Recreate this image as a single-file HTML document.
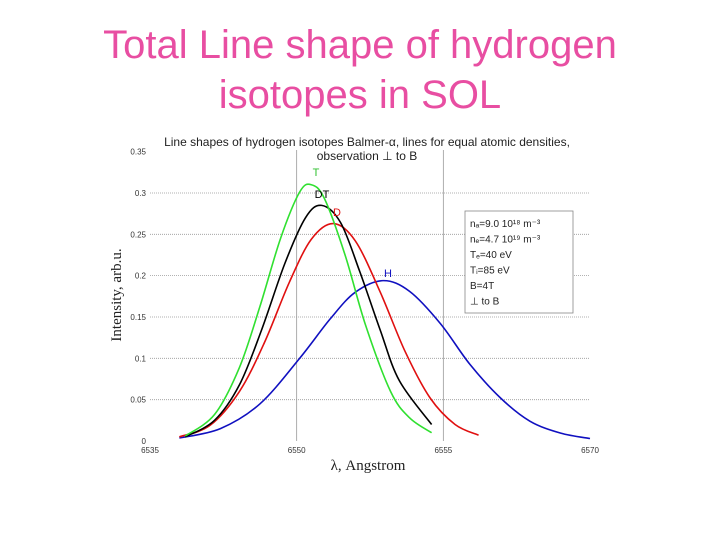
<!DOCTYPE html>
<html><head><meta charset="utf-8"><style>
body{margin:0;background:#fff;width:720px;height:540px;overflow:hidden;font-family:"Liberation Sans",sans-serif}
.t{position:absolute;left:0;width:720px;text-align:center;color:#e84ea2;font-size:40px;line-height:50px}
</style></head><body>
<div class="t" style="top:20px">Total Line shape of hydrogen<br>isotopes in SOL</div>
<svg id="c" width="720" height="540" style="position:absolute;left:0;top:0"></svg>
<script>
const yTicks=[0,0.05,0.1,0.15,0.2,0.25,0.3,0.35];
const yTickLabels=["0","0.05","0.1","0.15","0.2","0.25","0.3","0.35"];
const xTicks=[0,1,2,3];
const xTickLabels=["6535","6550","6555","6570"];
const tX=[0.24,0.44,0.61,0.75,0.89,1.02,1.10,1.19,1.33,1.47,1.64,1.77,1.92];
const tY=[0.006,0.032,0.089,0.163,0.245,0.301,0.31,0.293,0.225,0.14,0.06,0.028,0.010];
const dtX=[0.24,0.44,0.61,0.76,0.92,1.06,1.17,1.30,1.43,1.57,1.70,1.92];
const dtY=[0.005,0.025,0.068,0.134,0.215,0.27,0.285,0.264,0.205,0.134,0.073,0.02];
const dX=[0.20,0.41,0.61,0.78,0.95,1.10,1.25,1.40,1.57,1.74,1.91,2.08,2.24];
const dY=[0.005,0.019,0.06,0.119,0.192,0.244,0.263,0.242,0.18,0.108,0.052,0.02,0.007];
const hX=[0.20,0.48,0.75,1.02,1.23,1.40,1.59,1.77,1.98,2.18,2.39,2.59,2.80,3.00];
const hY=[0.0036,0.015,0.045,0.1,0.148,0.18,0.194,0.181,0.142,0.093,0.052,0.024,0.0095,0.003];
const NS="http://www.w3.org/2000/svg",svg=document.getElementById('c');
const X=u=>150+u*146.67, Y=v=>441-v*826.7;
function el(t,a,txt){const e=document.createElementNS(NS,t);for(const k in a)e.setAttribute(k,a[k]);if(txt!=null)e.textContent=txt;svg.appendChild(e);return e;}
yTicks.forEach((v,i)=>{
 if(v>0&&v<0.35){const g=el('line',{x1:150,x2:590,y1:Y(v),y2:Y(v),stroke:'#999','stroke-width':0.8,'stroke-dasharray':'1,1'});
 
 }
 const t=el('text',{x:146,y:Y(v)+3,'font-size':8,'text-anchor':'end',fill:'#333'},yTickLabels[i]);
 
 
});
[1,2].forEach(u=>{const l=el('line',{x1:X(u),x2:X(u),y1:150,y2:441,stroke:'#999','stroke-width':0.8});
 
 });
xTicks.forEach((u,i)=>{const t=el('text',{x:X(u),y:453,'font-size':8,'text-anchor':'middle',fill:'#333'},xTickLabels[i]);
 
 });
function path(xs,ys){const p=xs.map((x,i)=>[X(x),Y(ys[i])]);let d='M'+p[0];
 for(let i=0;i<p.length-1;i++){const p0=p[i-1]||p[i],p1=p[i],p2=p[i+1],p3=p[i+2]||p2;
  d+=' C'+(p1[0]+(p2[0]-p0[0])/6)+','+(p1[1]+(p2[1]-p0[1])/6)+' '+(p2[0]-(p3[0]-p1[0])/6)+','+(p2[1]-(p3[1]-p1[1])/6)+' '+p2;}
 return d;}
[[hX,hY,'#1010c0','series-h'],[dX,dY,'#e01010','series-d'],[dtX,dtY,'#000','series-dt'],[tX,tY,'#30e030','series-t']].forEach(s=>{
 const p=el('path',{d:path(s[0],s[1]),fill:'none',stroke:s[2],'stroke-width':1.6});
 
 });
[['T',316,176,'#30c030'],['DT',322,198,'#000'],['D',337,216,'#e01010'],['H',388,277,'#1010c0']].forEach(a=>{
 const t=el('text',{x:a[1],y:a[2],'font-size':11,'text-anchor':'middle',fill:a[3]},a[0]);
 
 });
const t1=el('text',{x:367,y:146,'font-size':12,'text-anchor':'middle',fill:'#222'},'Line shapes of hydrogen isotopes Balmer-α, lines for equal atomic densities,');


const t2=el('text',{x:367,y:160,'font-size':12,'text-anchor':'middle',fill:'#222'},'observation ⊥ to B');


const xl=el('text',{x:368,y:470,'font-size':15,'text-anchor':'middle','font-family':'Liberation Serif',fill:'#222'},'λ, Angstrom');


const yl=el('text',{x:121,y:295,'font-size':15,'text-anchor':'middle','font-family':'Liberation Serif',fill:'#222',transform:'rotate(-90 121 295)'},'Intensity, arb.u.');


const bx=el('rect',{x:465,y:211,width:108,height:102,fill:'#fff',stroke:'#888','stroke-width':0.8});


['nₐ=9.0 10¹⁸ m⁻³','nₑ=4.7 10¹⁹ m⁻³','Tₑ=40 eV','Tᵢ=85 eV','B=4T','⊥ to B'].forEach((s,i)=>{
 const t=el('text',{x:470,y:227+i*15.5,'font-size':10,fill:'#222'},s);
 
 });
</script>
</body></html>
